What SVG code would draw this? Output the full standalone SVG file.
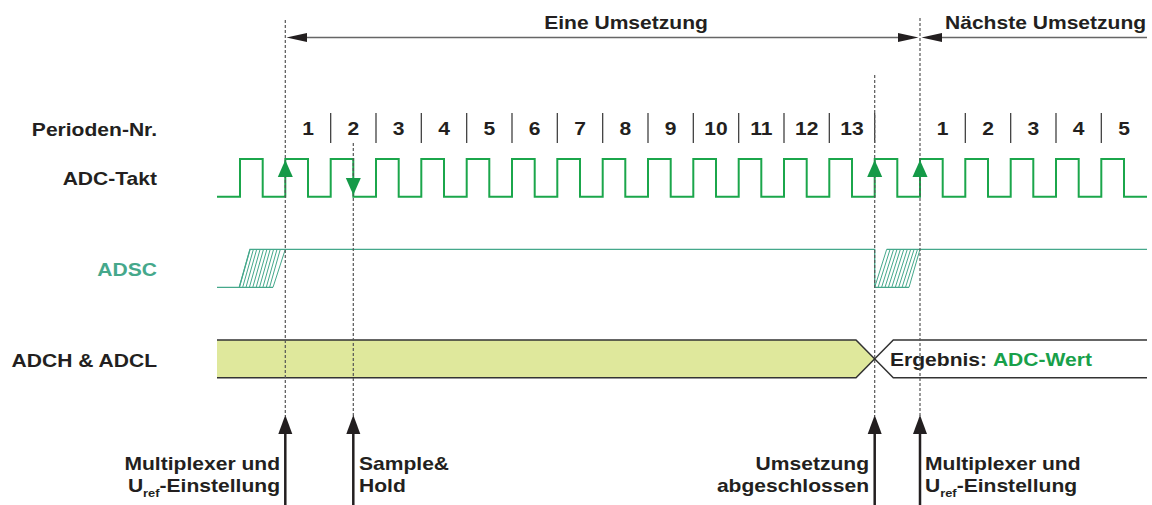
<svg xmlns="http://www.w3.org/2000/svg" width="1152" height="505" viewBox="0 0 1152 505">
<defs>
<style>
.t{font-family:"Liberation Sans",Arial,Helvetica,sans-serif;font-weight:bold;font-size:18px;fill:#231f20}
.m{text-anchor:middle}
.e{text-anchor:end}
.sub{font-size:11px}
.teal{fill:#45a88b}
.grn{fill:#18a04a}
.clk{fill:none;stroke:#1ba64b;stroke-width:2}
.adsc{fill:none;stroke:#45a88b;stroke-width:1.3}
.hatch{fill:none;stroke:#45a88b;stroke-width:1}
.sep{stroke:#333;stroke-width:1.2}
.dash{stroke:#555;stroke-width:1.2;stroke-dasharray:3 2;fill:none}
.bus{fill:none;stroke:#333;stroke-width:1.5}
.dim{stroke:#666;stroke-width:1.6}
.ga{fill:#159a48}
.ba{fill:#231f20}
.bl{stroke:#231f20;stroke-width:2.5}
</style>
</defs>

<g id="labels">
<text class="t e" transform="translate(157,136) scale(1.17,1)">Perioden-Nr.</text>
<text class="t e" transform="translate(157,185) scale(1.17,1)">ADC-Takt</text>
<text class="t e teal" transform="translate(157,275.5) scale(1.17,1)">ADSC</text>
<text class="t e" transform="translate(157,366.5) scale(1.17,1)">ADCH &amp; ADCL</text>
</g>

<g id="top-span">
<text class="t m" transform="translate(626,28.5) scale(1.17,1)">Eine Umsetzung</text>
<text class="t" transform="translate(945,28.5) scale(1.17,1)">Nächste Umsetzung</text>
</g>

<g id="period-numbers">
<text class="t m" transform="translate(308,135) scale(1.17,1)">1</text>
<text class="t m" transform="translate(353.3,135) scale(1.17,1)">2</text>
<text class="t m" transform="translate(398.7,135) scale(1.17,1)">3</text>
<text class="t m" transform="translate(444,135) scale(1.17,1)">4</text>
<text class="t m" transform="translate(489.3,135) scale(1.17,1)">5</text>
<text class="t m" transform="translate(534.7,135) scale(1.17,1)">6</text>
<text class="t m" transform="translate(580,135) scale(1.17,1)">7</text>
<text class="t m" transform="translate(625.3,135) scale(1.17,1)">8</text>
<text class="t m" transform="translate(670.7,135) scale(1.17,1)">9</text>
<text class="t m" transform="translate(716,135) scale(1.17,1)">10</text>
<text class="t m" transform="translate(761.3,135) scale(1.17,1)">11</text>
<text class="t m" transform="translate(806.7,135) scale(1.17,1)">12</text>
<text class="t m" transform="translate(852,135) scale(1.17,1)">13</text>
<text class="t m" transform="translate(942.7,135) scale(1.17,1)">1</text>
<text class="t m" transform="translate(988,135) scale(1.17,1)">2</text>
<text class="t m" transform="translate(1033.3,135) scale(1.17,1)">3</text>
<text class="t m" transform="translate(1078.7,135) scale(1.17,1)">4</text>
<text class="t m" transform="translate(1124,135) scale(1.17,1)">5</text>
<path class="sep" d="M330.7,113V143M376,113V143M421.3,113V143M466.7,113V143M512,113V143M557.3,113V143M602.7,113V143M648,113V143M693.3,113V143M738.7,113V143M784,113V143M829.3,113V143M874.7,113V143M965.3,113V143M1010.7,113V143M1056,113V143M1101.3,113V143"/>
</g>

<g id="adc-takt">
<path class="clk" d="M217,196.7H240V159H262.7V196.7H285.3V159H308V196.7H330.7V159H353.3V196.7H376V159H398.7V196.7H421.3V159H444V196.7H466.7V159H489.3V196.7H512V159H534.7V196.7H557.3V159H580V196.7H602.7V159H625.3V196.7H648V159H670.7V196.7H693.3V159H716V196.7H738.7V159H761.3V196.7H784V159H806.7V196.7H829.3V159H852V196.7H874.7V159H897.3V196.7H920V159H942.7V196.7H965.3V159H988V196.7H1010.7V159H1033.3V196.7H1056V159H1078.7V196.7H1101.3V159H1124V196.7H1147"/>
</g>

<g id="adsc">
<path class="adsc" d="M217,287.3H273M239.3,287.3L250,249.3H874.7V287.3H909M886.7,249.3H1147"/>
<path class="hatch" d="M239.3,287.3l10.7,-38M242.7,287.3l10.7,-38M246,287.3l10.7,-38M249.4,287.3l10.7,-38M252.8,287.3l10.7,-38M256.2,287.3l10.7,-38M259.5,287.3l10.7,-38M262.9,287.3l10.7,-38M266.3,287.3l10.7,-38M269.6,287.3l10.7,-38M273,287.3l12.3,-38"/>
<path class="hatch" d="M874.7,287.3l12,-38M878.1,287.3l12,-38M881.6,287.3l12,-38M885,287.3l12,-38M888.4,287.3l12,-38M891.8,287.3l12,-38M895.3,287.3l12,-38M898.7,287.3l12,-38M902.1,287.3l12,-38M905.5,287.3l12,-38M909,287.3l11,-38"/>
</g>

<g id="adch-adcl">
<polygon points="217,340 856,340 875,358.8 856,377.7 217,377.7" fill="#dfe89c"/>
<path class="bus" d="M217,340H856L893.3,377.7H1147M217,377.7H856L893.3,340H1147"/>
<text class="t" transform="translate(890,366) scale(1.17,1)">Ergebnis: <tspan class="grn">ADC-Wert</tspan></text>
</g>

<g id="connectors">
<path class="dash" d="M285.3,20V416M353.3,143V416M874.7,75V416M920,18V416"/>
<line class="dim" x1="300" y1="37.5" x2="905" y2="37.5"/>
<polygon class="ba" points="286.5,37.5 307,33 307,42"/>
<polygon class="ba" points="918.5,37.5 898,33 898,42"/>
<line class="dim" x1="935" y1="37.5" x2="1147" y2="37.5"/>
<polygon class="ba" points="921.5,37.5 942,33 942,42"/>
<polygon class="ga" points="285.3,160 277.8,177 292.8,177"/>
<polygon class="ga" points="353.3,195 345.8,178 360.8,178"/>
<polygon class="ga" points="874.7,160 867.2,177 882.2,177"/>
<polygon class="ga" points="920,160 912.5,177 927.5,177"/>
<path class="bl" d="M285.3,430V505M353.3,430V505M874.7,430V505M920,430V505"/>
<polygon class="ba" points="285.3,415 278.3,434 292.3,434"/>
<polygon class="ba" points="353.3,415 346.3,434 360.3,434"/>
<polygon class="ba" points="874.7,415 867.7,434 881.7,434"/>
<polygon class="ba" points="920,415 913,434 927,434"/>
</g>

<g id="event-mux1">
<text class="t e" transform="translate(280,470) scale(1.17,1)">Multiplexer und</text>
<text class="t e" transform="translate(280,492) scale(1.17,1)">U<tspan class="sub" dy="5">ref</tspan><tspan dy="-5">-Einstellung</tspan></text>
</g>
<g id="event-sample">
<text class="t" transform="translate(359,470) scale(1.17,1)">Sample&amp;</text>
<text class="t" transform="translate(359,492) scale(1.17,1)">Hold</text>
</g>
<g id="event-done">
<text class="t e" transform="translate(869,470) scale(1.17,1)">Umsetzung</text>
<text class="t e" transform="translate(869,492) scale(1.17,1)">abgeschlossen</text>
</g>
<g id="event-mux2">
<text class="t" transform="translate(925,470) scale(1.17,1)">Multiplexer und</text>
<text class="t" transform="translate(925,492) scale(1.17,1)">U<tspan class="sub" dy="5">ref</tspan><tspan dy="-5">-Einstellung</tspan></text>
</g>
</svg>
